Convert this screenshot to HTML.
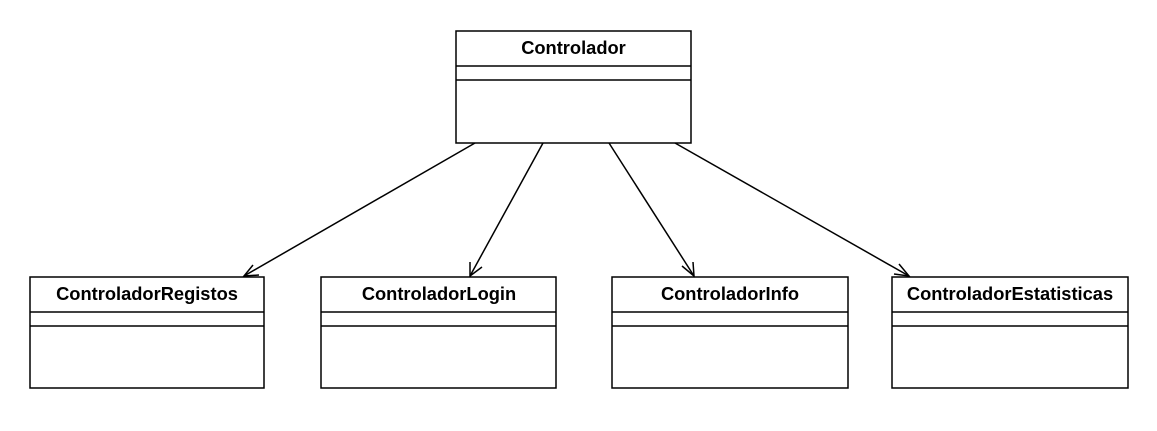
<!DOCTYPE html>
<html><head><meta charset="utf-8"><style>
html,body{margin:0;padding:0;background:#fff;}
svg{display:block;}
text{font-family:"Liberation Sans",Arial,sans-serif;font-weight:bold;font-size:18.3px;fill:#000;}
</style></head><body>
<svg width="1157" height="431" viewBox="0 0 1157 431" xmlns="http://www.w3.org/2000/svg">
<g fill="none" stroke="#000" stroke-width="1.5">
<rect x="456" y="31" width="235" height="112"/>
<line x1="456" y1="66" x2="691" y2="66"/><line x1="456" y1="80" x2="691" y2="80"/>
<rect x="30" y="277" width="234" height="111"/>
<line x1="30" y1="312" x2="264" y2="312"/><line x1="30" y1="326" x2="264" y2="326"/>
<rect x="321" y="277" width="235" height="111"/>
<line x1="321" y1="312" x2="556" y2="312"/><line x1="321" y1="326" x2="556" y2="326"/>
<rect x="612" y="277" width="236" height="111"/>
<line x1="612" y1="312" x2="848" y2="312"/><line x1="612" y1="326" x2="848" y2="326"/>
<rect x="892" y="277" width="236" height="111"/>
<line x1="892" y1="312" x2="1128" y2="312"/><line x1="892" y1="326" x2="1128" y2="326"/>
<line x1="475" y1="143" x2="244" y2="276"/>
<polyline points="253,265 244,276 259,275"/>
<line x1="543" y1="143" x2="470" y2="276"/>
<polyline points="470,262 470,276 482,267"/>
<line x1="609" y1="143" x2="694" y2="276"/>
<polyline points="682,266 694,276 693,262"/>
<line x1="675" y1="143" x2="909" y2="276"/>
<polyline points="894,274 909,276 899,264"/>
</g>
<text x="573.5" y="54" text-anchor="middle">Controlador</text>
<text x="147" y="300" text-anchor="middle">ControladorRegistos</text>
<text x="439" y="300" text-anchor="middle">ControladorLogin</text>
<text x="730" y="300" text-anchor="middle">ControladorInfo</text>
<text x="1010" y="300" text-anchor="middle">ControladorEstatisticas</text>
</svg>
</body></html>
